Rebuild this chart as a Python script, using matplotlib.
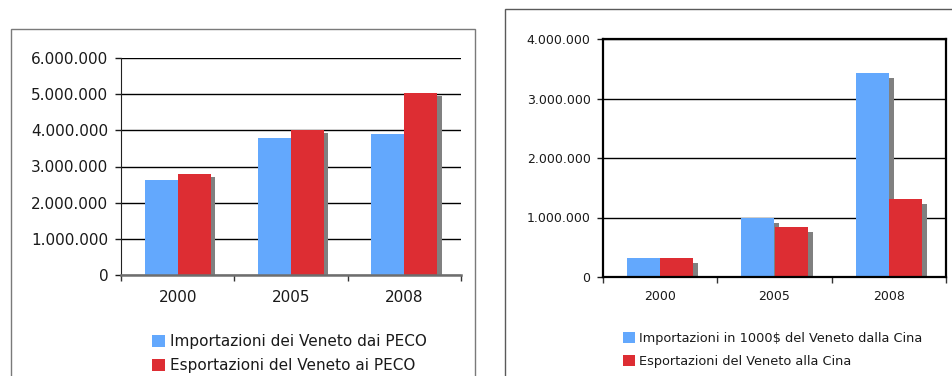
import matplotlib.pyplot as plt
import matplotlib.patheffects as pe
from matplotlib.patches import Rectangle
from matplotlib.ticker import FuncFormatter
import numpy as np

years = ['2000', '2005', '2008']

# Veneto - PECO
imp_peco = [2630000, 3800000, 3900000]
exp_peco = [2790000, 4010000, 5030000]
labels_peco = ['Importazioni dei Veneto dai PECO', 'Esportazioni del Veneto ai PECO']

# Veneto - Cina
imp_cina = [320000, 990000, 3430000]
exp_cina = [320000, 840000, 1310000]
labels_cina = ['Importazioni in 1000$ del Veneto dalla Cina', 'Esportazioni del Veneto alla Cina']

BLUE = '#63a8fd'
RED = '#dd2d33'
SHADOW = '#808080'
TXT = '#1a1a1a'

W, H = 952, 376
fig = plt.figure(figsize=(W / 100, H / 100), dpi=100)


def fx(px):
    return px / W


def fy(py):
    return 1 - py / H


def thousands(v, pos):
    return f'{int(v):,}'.replace(',', '.')


def bar_chart(rect, imp, exp, ymax, fs, shadow_off, box, xpad):
    ax = fig.add_axes(rect)
    x = np.arange(len(years))
    w = 0.29
    sh = [pe.SimplePatchShadow(offset=shadow_off, shadow_rgbFace=SHADOW, alpha=1.0), pe.Normal()]
    b1 = ax.bar(x - w / 2, imp, w, color=BLUE, zorder=2)
    b2 = ax.bar(x + w / 2, exp, w, color=RED, zorder=2)
    for p in list(b1) + list(b2):
        p.set_path_effects(sh)
    ax.set_xlim(-0.5, len(years) - 0.5)
    ax.set_ylim(0, ymax)
    ax.set_yticks(np.arange(0, ymax + 1, 1000000))
    ax.yaxis.set_major_formatter(FuncFormatter(thousands))
    ax.grid(axis='y', color='black', linewidth=1.0, zorder=1)
    ax.set_axisbelow(True)
    ax.set_xticks(x)
    ax.set_xticklabels(years)
    ax.set_xticks(np.arange(-0.5, len(years)), minor=True)
    ax.tick_params(axis='x', which='major', length=0, labelsize=fs, colors=TXT, pad=xpad)
    ax.tick_params(axis='x', which='minor', length=4, width=1, color='#333333')
    ax.tick_params(axis='y', length=4, width=1, labelsize=fs, colors=TXT, pad=5)
    if box:
        for s in ax.spines.values():
            s.set_linewidth(1.6)
            s.set_color('black')
    else:
        ax.spines['top'].set_visible(False)
        ax.spines['right'].set_visible(False)
        ax.spines['left'].set_color('#222222')
        ax.spines['bottom'].set_color('#6e6e6e')
        ax.spines['bottom'].set_linewidth(1.8)
    return ax


def legend_handles():
    return [Rectangle((0, 0), 1, 1, facecolor=BLUE), Rectangle((0, 0), 1, 1, facecolor=RED)]


# left chart
ax1 = bar_chart([fx(121), fy(275), fx(461 - 121), (275 - 58) / H],
                imp_peco, exp_peco, 6000000, 11, (3.2, -2.4), False, 11)
fig.legend(legend_handles(), labels_peco, loc='upper left', bbox_to_anchor=(fx(152), fy(334)),
           frameon=False, fontsize=11, handlelength=0.85, handleheight=0.85,
           handletextpad=0.3, labelspacing=0.6, borderpad=0, borderaxespad=0,
           labelcolor=TXT)

# right chart
ax2 = bar_chart([fx(603), fy(277), fx(946 - 603), (277 - 39) / H],
                imp_cina, exp_cina, 4000000, 9, (3.6, -3.6), True, 9.5)
fig.legend(legend_handles(), labels_cina, loc='upper left', bbox_to_anchor=(fx(623), fy(332)),
           frameon=False, fontsize=9.3, handlelength=0.9, handleheight=0.9,
           handletextpad=0.35, labelspacing=0.75, borderpad=0, borderaxespad=0,
           labelcolor=TXT)

# outer chart frames
fig.add_artist(Rectangle((fx(11), fy(380)), fx(475 - 11), (380 - 29) / H,
                         fill=False, edgecolor='#7a7a7a', linewidth=1.0, transform=fig.transFigure))
fig.add_artist(Rectangle((fx(505), fy(380)), fx(960 - 505), (380 - 9) / H,
                         fill=False, edgecolor='#5a5a5a', linewidth=1.0, transform=fig.transFigure))

fig.savefig('out.png', dpi=100)
